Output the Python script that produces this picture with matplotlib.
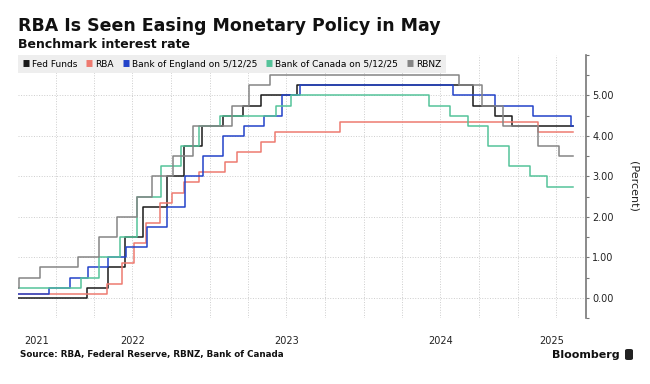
import numpy as np
import pandas as pd
from matplotlib import pyplot as plt
from matplotlib.patches import FancyBboxPatch

# policy rate change dates and new levels (step series)
fed_dates = ['2021-10-01', '2022-03-16', '2022-05-04', '2022-06-15', '2022-07-27', '2022-09-21',
             '2022-11-02', '2022-12-14', '2023-02-01', '2023-03-22', '2023-05-03', '2023-07-26',
             '2024-09-18', '2024-11-07', '2024-12-18', '2025-05-12']
fed_rates = [0.00, 0.25, 0.75, 1.50, 2.25, 3.00, 3.75, 4.25, 4.50, 4.75, 5.00, 5.25,
             4.75, 4.50, 4.25, 4.25]

rba_dates = ['2021-10-01', '2022-05-03', '2022-06-07', '2022-07-05', '2022-08-02', '2022-09-06',
             '2022-10-04', '2022-11-01', '2022-12-06', '2023-02-07', '2023-03-07', '2023-05-02',
             '2023-06-06', '2023-11-07', '2025-02-18', '2025-05-12']
rba_rates = [0.10, 0.35, 0.85, 1.35, 1.85, 2.35, 2.60, 2.85, 3.10, 3.35, 3.60, 3.85,
             4.10, 4.35, 4.10, 4.10]

boe_dates = ['2021-10-01', '2021-12-16', '2022-02-03', '2022-03-17', '2022-05-05', '2022-06-16',
             '2022-08-04', '2022-09-22', '2022-11-03', '2022-12-15', '2023-02-02', '2023-03-23',
             '2023-05-11', '2023-06-22', '2023-08-03', '2024-08-01', '2024-11-07', '2025-02-06',
             '2025-05-08', '2025-05-12']
boe_rates = [0.10, 0.25, 0.50, 0.75, 1.00, 1.25, 1.75, 2.25, 3.00, 3.50, 4.00, 4.25,
             4.50, 5.00, 5.25, 5.00, 4.75, 4.50, 4.25, 4.25]

boc_dates = ['2021-10-01', '2022-03-02', '2022-04-13', '2022-06-01', '2022-07-13', '2022-09-07',
             '2022-10-26', '2022-12-07', '2023-01-25', '2023-06-07', '2023-07-12', '2024-06-05',
             '2024-07-24', '2024-09-04', '2024-10-23', '2024-12-11', '2025-01-29', '2025-03-12',
             '2025-05-12']
boc_rates = [0.25, 0.50, 1.00, 1.50, 2.50, 3.25, 3.75, 4.25, 4.50, 4.75, 5.00, 4.75,
             4.50, 4.25, 3.75, 3.25, 3.00, 2.75, 2.75]

rbnz_dates = ['2021-10-01', '2021-10-06', '2021-11-24', '2022-02-23', '2022-04-13', '2022-05-25',
              '2022-07-13', '2022-08-17', '2022-10-05', '2022-11-23', '2023-02-22', '2023-04-05',
              '2023-05-24', '2024-08-14', '2024-10-09', '2024-11-27', '2025-02-19', '2025-04-09',
              '2025-05-12']
rbnz_rates = [0.25, 0.50, 0.75, 1.00, 1.50, 2.00, 2.50, 3.00, 3.50, 4.25, 4.75, 5.25,
              5.50, 5.25, 4.75, 4.25, 3.75, 3.50, 3.50]

series = [
    ('Fed Funds', fed_dates, fed_rates, '#1a1a1a'),
    ('RBA', rba_dates, rba_rates, '#ee7a70'),
    ('Bank of England on 5/12/25', boe_dates, boe_rates, '#2343c9'),
    ('Bank of Canada on 5/12/25', boc_dates, boc_rates, '#55c39a'),
    ('RBNZ', rbnz_dates, rbnz_rates, '#858585'),
]

x_start = pd.Timestamp('2021-10-03')
x_end = pd.Timestamp('2025-06-12')

fig = plt.figure(figsize=(6.5, 3.84), dpi=100)
ax = fig.add_axes([18/650, 66/384, (586-18)/650, (318-55)/384])

for name, d, r, c in series:
    ax.plot(pd.to_datetime(d), r, drawstyle='steps-post', color=c, lw=1.1, label=name)

ax.set_xlim(x_start, x_end)
ax.set_ylim(-0.5, 6.0)

# grid: quarterly verticals, whole-percent horizontals
ax.set_xticks(pd.date_range('2022-01-01', x_end, freq='QS'))
ax.tick_params(axis='x', which='major', length=0, labelbottom=False)
years = [2021, 2022, 2023, 2024, 2025]
centers = []
for y in years:
    a = max(pd.Timestamp(f'{y}-01-01'), x_start)
    b = min(pd.Timestamp(f'{y+1}-01-01'), x_end)
    centers.append(a + (b - a) / 2)
ax.set_xticks(centers, minor=True)
ax.set_xticklabels([str(y) for y in years], minor=True)
ax.tick_params(axis='x', which='minor', length=0, pad=13, labelsize=7, labelcolor='#222222')

ax.yaxis.tick_right()
ax.yaxis.set_label_position('right')
ax.set_yticks(np.arange(0, 6, 1.0))
ax.set_yticklabels([f'{v:.2f}' for v in np.arange(0, 6, 1.0)])
ax.set_yticks(np.arange(-0.5, 6.01, 0.5), minor=True)
ax.tick_params(axis='y', which='both', direction='out', length=2.5, width=0.8, color='#777777',
               labelsize=7, labelcolor='#222222', pad=2)
ax.set_ylabel('(Percent)', rotation=270, fontsize=8, labelpad=18, color='#222222')

ax.grid(True, which='major', color='#cdcdcd', ls=':', lw=0.7)
for s in ['top', 'left', 'bottom']:
    ax.spines[s].set_visible(False)
ax.spines['right'].set_color('#777777')
ax.spines['right'].set_linewidth(1.2)

leg = ax.legend(loc='upper left', bbox_to_anchor=(0.0, 1.0), ncol=5, fontsize=6.5,
                frameon=True, fancybox=False, handlelength=0.7, handleheight=0.7,
                handletextpad=0.3, columnspacing=1.0, borderaxespad=0.0, borderpad=0.5)
leg.get_frame().set_facecolor('#eeeeee')
leg.get_frame().set_edgecolor('none')
leg.get_frame().set_alpha(1)
for h in leg.legend_handles:
    h.set_linewidth(5)
    h.set_solid_capstyle('butt')

fig.text(18/650, 1 - 31/384, 'RBA Is Seen Easing Monetary Policy in May', fontsize=12.5,
         weight='bold', color='#111111', va='baseline')
fig.text(18/650, 1 - 48/384, 'Benchmark interest rate', fontsize=9, weight='bold',
         color='#111111', va='baseline')
fig.text(20/650, 1 - 357/384, 'Source: RBA, Federal Reserve, RBNZ, Bank of Canada', fontsize=6.3,
         weight='bold', color='#111111', va='baseline')
fig.text(620/650, 1 - 358/384, 'Bloomberg', fontsize=8, weight='semibold', color='#111111',
         va='baseline', ha='right')
fig.patches.append(FancyBboxPatch((625/650, 1 - 360/384), 8/650, 11/384,
                                  boxstyle='round,pad=0,rounding_size=0.004',
                                  transform=fig.transFigure, facecolor='#222222', edgecolor='none'))

fig.savefig('out.png', dpi=100)
